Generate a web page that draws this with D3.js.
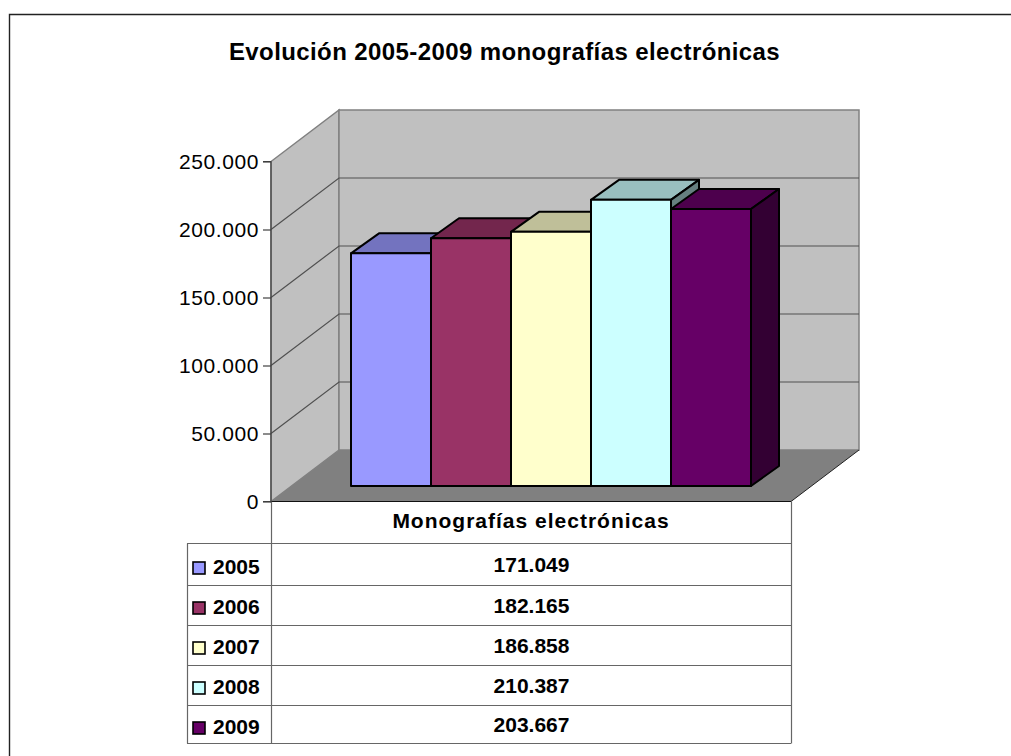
<!DOCTYPE html>
<html lang="en">
<meta charset="utf-8">
<style type="text/css">
  body { margin: 0; background: #fff; overflow: hidden; }
  svg { display: block; }
  text { font-family: "Liberation Sans", Arial, sans-serif; fill: #000; }
</style>
<body>
<script src="https://d3js.org/d3.v7.min.js"></script>
<script>
var title = "Evolución 2005-2009 monografías electrónicas";
var seriesName = "Monografías electrónicas";
var years = ["2005", "2006", "2007", "2008", "2009"];
var values = [171049, 182165, 186858, 210387, 203667];
var colors = ["#9999ff", "#993366", "#ffffcc", "#ccffff", "#660066"];
var yTicks = [0, 50000, 100000, 150000, 200000, 250000];

var width = 1011, height = 756;
var svg = d3.select("body").append("svg").attr("width", width).attr("height", height);

// chart frame, only top and left are inside the picture
svg.append("path").attr("fill", "none").attr("stroke", "#222").attr("stroke-width", 1.4)
    .attr("d", "M9.5," + height + "V14.5H" + width);

svg.append("text").attr("x", 504.5).attr("y", 60).attr("text-anchor", "middle")
    .attr("font-size", 24).attr("font-weight", "bold").attr("letter-spacing", 0.4).text(title);

// the front edge of the plot, the back wall is offset by depth
var left = 271, right = 791, bottom = 501.5, top_ = 161.5;
var wallDx = 68, wallDy = -51.5;
var barDx = 28, barDy = -20;
var y = d3.scaleLinear().domain([0, 250000]).range([bottom, top_]);
var es = d3.format(",");
var fmt = function (d) { return es(d).replace(/,/g, "."); };

function poly(pts) { return d3.line()(pts) + "Z"; }

// side wall, back wall, floor
svg.append("path").attr("fill", "#c0c0c0").attr("stroke", "#808080").attr("stroke-width", 1.5)
    .attr("d", poly([[left, bottom], [left, top_], [left + wallDx, top_ + wallDy], [left + wallDx, bottom + wallDy]]));
svg.append("path").attr("fill", "#c0c0c0").attr("stroke", "#808080").attr("stroke-width", 1.5)
    .attr("d", poly([[left + wallDx, top_ + wallDy], [right + wallDx, top_ + wallDy], [right + wallDx, bottom + wallDy], [left + wallDx, bottom + wallDy]]));
svg.append("path").attr("fill", "#808080")
    .attr("d", poly([[left, bottom], [left + wallDx, bottom + wallDy], [right + wallDx, bottom + wallDy], [right, bottom]]));

// gridlines on both walls
var grid = svg.append("g");
yTicks.slice(1, -1).forEach(function (t) {
  grid.append("path").attr("fill", "none").attr("stroke", "#505050").attr("stroke-width", 1.2)
      .attr("d", d3.line()([[left, y(t)], [left + wallDx, y(t) + wallDy], [right + wallDx, y(t) + wallDy]]));
});
svg.append("line").attr("x1", right).attr("y1", bottom).attr("x2", right + wallDx).attr("y2", bottom + wallDy)
    .attr("stroke", "#222").attr("stroke-width", 1);

// bars, left to right so each one covers the side of the one before
var x = d3.scaleBand().domain(years).range([351, 751]);
var barBase = y(0) - 15.5;
var barScale = d3.scaleLinear().domain([0, 250000]).range([barBase, barBase - (bottom - top_)]);

var bars = svg.selectAll(".bar").data(years).enter().append("g").attr("class", "bar")
    .attr("stroke", "#000").attr("stroke-width", 2).attr("stroke-linejoin", "round");
bars.each(function (d, i) {
  var g = d3.select(this), x0 = x(d), x1 = x0 + x.bandwidth(), yt = barScale(values[i]);
  var c = d3.color(colors[i]);
  var shade = function (k) { return d3.rgb(c.r * k, c.g * k, c.b * k).formatHex(); };
  g.append("path").attr("fill", shade(0.75))
      .attr("d", poly([[x0, yt], [x0 + barDx, yt + barDy], [x1 + barDx, yt + barDy], [x1, yt]]));
  g.append("path").attr("fill", shade(0.5))
      .attr("d", poly([[x1, yt], [x1 + barDx, yt + barDy], [x1 + barDx, barBase + barDy], [x1, barBase]]));
  g.append("rect").attr("x", x0).attr("y", yt).attr("width", x.bandwidth()).attr("height", barBase - yt)
      .attr("fill", colors[i]);
});

// value axis
var axis = svg.append("g").attr("transform", "translate(" + left + ",0)")
    .call(d3.axisLeft(y).tickValues(yTicks).tickFormat(fmt).tickSize(8).tickPadding(4));
axis.selectAll("path, line").attr("stroke", "#404040").attr("stroke-width", 1.2);
axis.select(".domain").attr("d", "M-8," + top_ + "H0V" + bottom + "H-8");
axis.selectAll("text").attr("font-size", 21).attr("font-family", null).attr("letter-spacing", 0.6);

// data table
var rowLines = [501.5, 543.5, 585.5, 625.5, 665.5, 705.5, 743.5];
var tableLeft = 187;
var legendY = d3.scalePoint().domain(years).range([574, 734]);
var table = svg.append("g");
table.append("line").attr("x1", left).attr("x2", right).attr("y1", bottom).attr("y2", bottom)
    .attr("stroke", "#111").attr("stroke-width", 1.2);
rowLines.slice(1).forEach(function (ly) {
  table.append("line").attr("x1", tableLeft).attr("x2", right).attr("y1", ly).attr("y2", ly)
      .attr("stroke", "#666").attr("stroke-width", 1.2);
});
[tableLeft, left, right].forEach(function (lx) {
  table.append("line").attr("x1", lx + 0.5).attr("x2", lx + 0.5).attr("stroke", "#666").attr("stroke-width", 1.2)
      .attr("y1", lx === tableLeft ? 543.5 : bottom).attr("y2", 743.5);
});

table.append("text").attr("x", 531).attr("y", 528).attr("text-anchor", "middle")
    .attr("font-size", 21).attr("font-weight", "bold").attr("letter-spacing", 1).text(seriesName);

var rows = table.selectAll(".row").data(years).enter().append("g").attr("class", "row");
rows.append("rect").attr("x", 193).attr("y", function (d) { return legendY(d) - 12; })
    .attr("width", 12).attr("height", 12)
    .attr("fill", function (d, i) { return colors[i]; }).attr("stroke", "#000").attr("stroke-width", 1.6);
rows.append("text").attr("x", 213).attr("y", function (d) { return legendY(d); })
    .attr("font-size", 21).attr("font-weight", "bold").text(function (d) { return d; });
rows.append("text").attr("x", 531.5).attr("y", function (d, i) { return (rowLines[i + 1] + rowLines[i + 2]) / 2 + 7; })
    .attr("text-anchor", "middle").attr("font-size", 21).attr("font-weight", "bold")
    .text(function (d, i) { return fmt(values[i]); });
</script>
</body>
</html>
